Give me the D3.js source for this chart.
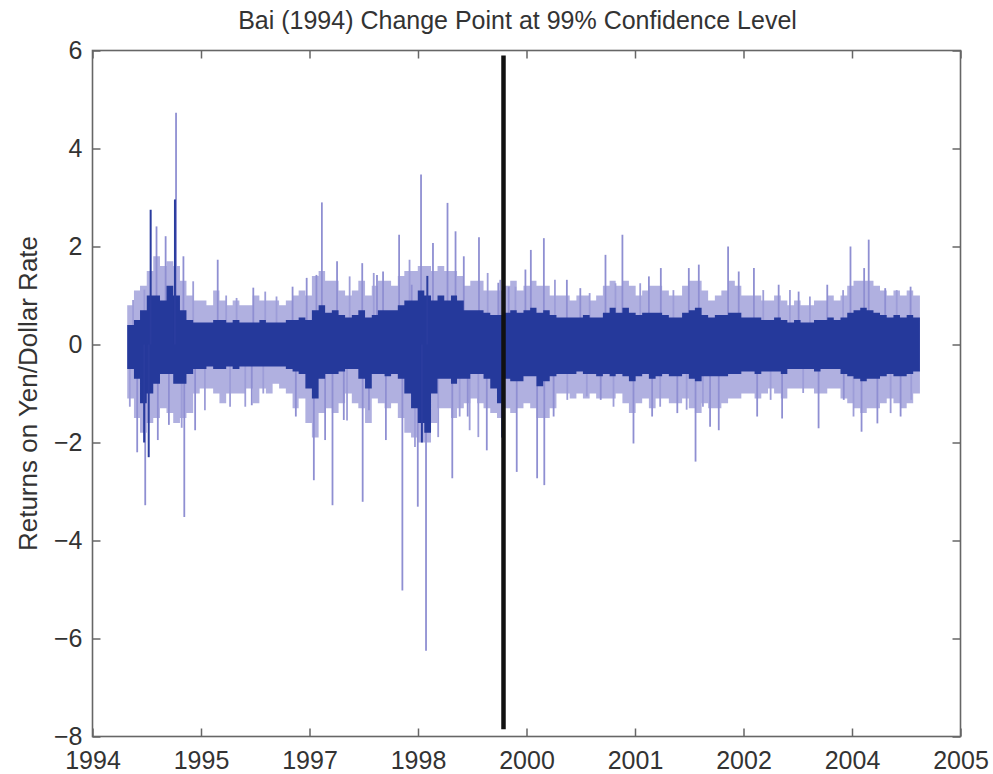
<!DOCTYPE html>
<html>
<head>
<meta charset="utf-8">
<script src="https://cdnjs.cloudflare.com/ajax/libs/d3/7.8.5/d3.min.js"></script>
<style>
  body { margin: 0; background: #fff; }
  text { font-family: "Liberation Sans", Arial, Helvetica, sans-serif; fill: #333; }
</style>
</head>
<body>
<div id="chart"></div>
<script>
// years covered by the daily return series (monthly summary below, Jan..Dec each year)
var years = [1995, 1996, 1997, 1998, 1999, 2000, 2001, 2002, 2003, 2004];

// outer (light) envelope of the returns, per month
var lightHi = [
  0.8, 1.1, 1.2, 1.5, 1.8, 1.6, 1.7, 1.6, 1.3, 1.0, 0.9, 0.9,
  0.8, 1.1, 0.9, 0.8, 0.9, 0.8, 0.8, 1.0, 0.9, 0.9, 0.9, 0.8,
  0.9, 1.0, 1.1, 1.0, 1.4, 1.5, 1.3, 1.3, 1.1, 1.0, 1.1, 1.3,
  1.0, 1.2, 1.3, 1.3, 1.2, 1.4, 1.5, 1.5, 1.6, 1.6, 1.5, 1.6,
  1.5, 1.5, 1.4, 1.2, 1.3, 1.3, 1.1, 1.1, 1.1, 1.2, 1.3, 1.1,
  1.2, 1.3, 1.2, 1.2, 1.0, 1.0, 1.0, 0.9, 1.0, 1.0, 0.9, 1.0,
  1.2, 1.3, 1.2, 1.3, 1.2, 1.0, 1.1, 1.2, 1.2, 1.1, 1.0, 1.0,
  1.2, 1.3, 1.3, 1.1, 0.9, 1.0, 1.1, 1.3, 1.2, 1.0, 1.0, 1.0,
  0.9, 0.9, 1.0, 0.9, 0.8, 0.9, 0.8, 0.8, 0.9, 0.9, 1.0, 0.9,
  1.0, 1.2, 1.3, 1.3, 1.3, 1.2, 1.1, 1.0, 1.1, 1.0, 1.1, 1.0
];
var lightLo = [
  -1.1, -1.5, -1.8, -1.6, -1.5, -1.3, -1.4, -1.6, -1.5, -1.4, -1.0, -0.9,
  -0.9, -1.0, -1.2, -1.0, -1.0, -1.0, -0.9, -1.2, -0.9, -1.0, -0.8, -0.9,
  -1.0, -1.3, -1.1, -1.6, -1.9, -1.4, -1.3, -1.4, -1.2, -1.0, -1.2, -1.3,
  -1.6, -1.1, -1.2, -1.3, -1.2, -1.5, -1.8, -1.9, -2.0, -2.0, -1.6, -1.3,
  -1.3, -1.5, -1.3, -1.2, -1.1, -1.2, -1.3, -1.4, -1.5, -1.3, -1.4, -1.3,
  -1.2, -1.3, -1.5, -1.5, -1.3, -1.0, -1.0, -1.1, -1.0, -1.1, -1.0, -1.1,
  -1.1, -1.1, -1.0, -1.2, -1.4, -1.2, -1.1, -1.3, -1.1, -1.1, -1.2, -1.2,
  -1.1, -1.3, -1.4, -1.2, -1.3, -1.3, -1.2, -1.1, -1.1, -1.0, -1.0, -1.1,
  -1.0, -0.9, -1.0, -1.1, -0.9, -0.9, -0.9, -0.9, -1.0, -1.0, -0.9, -0.9,
  -1.1, -1.2, -1.3, -1.4, -1.3, -1.3, -1.2, -1.1, -1.2, -1.3, -1.2, -1.0
];

// dense (dark) core of the returns, per month
var coreHi = [
  0.4, 0.5, 0.7, 1.0, 1.0, 0.9, 1.2, 1.0, 0.7, 0.5, 0.45, 0.45,
  0.45, 0.5, 0.5, 0.45, 0.5, 0.45, 0.45, 0.45, 0.5, 0.45, 0.45, 0.45,
  0.5, 0.5, 0.55, 0.5, 0.7, 0.8, 0.65, 0.7, 0.6, 0.55, 0.6, 0.7,
  0.55, 0.6, 0.7, 0.7, 0.7, 0.8, 0.9, 0.9, 1.1, 1.0, 0.9, 1.0,
  0.9, 1.0, 0.9, 0.7, 0.7, 0.7, 0.65, 0.6, 0.6, 0.65, 0.7, 0.65,
  0.7, 0.75, 0.65, 0.7, 0.6, 0.55, 0.55, 0.55, 0.55, 0.6, 0.55, 0.55,
  0.65, 0.75, 0.65, 0.75, 0.65, 0.6, 0.65, 0.65, 0.65, 0.6, 0.55, 0.55,
  0.65, 0.7, 0.75, 0.6, 0.55, 0.6, 0.6, 0.65, 0.65, 0.55, 0.55, 0.55,
  0.5, 0.5, 0.55, 0.5, 0.45, 0.5, 0.45, 0.45, 0.5, 0.5, 0.55, 0.5,
  0.55, 0.65, 0.7, 0.75, 0.7, 0.65, 0.6, 0.55, 0.6, 0.55, 0.6, 0.55
];
var coreLo = [
  -0.5, -0.7, -1.2, -1.0, -0.8, -0.6, -0.6, -0.8, -0.8, -0.6, -0.5, -0.5,
  -0.45, -0.5, -0.5, -0.45, -0.5, -0.45, -0.45, -0.45, -0.45, -0.45, -0.45, -0.45,
  -0.5, -0.55, -0.6, -0.9, -1.1, -0.7, -0.6, -0.6, -0.55, -0.5, -0.5, -0.7,
  -0.9, -0.6, -0.6, -0.65, -0.6, -0.7, -1.0, -1.3, -1.6, -1.8, -1.0, -0.7,
  -0.7, -0.8, -0.7, -0.7, -0.6, -0.6, -0.7, -0.9, -1.2, -0.7, -0.75, -0.75,
  -0.65, -0.65, -0.85, -0.75, -0.65, -0.6, -0.6, -0.6, -0.55, -0.6, -0.6, -0.65,
  -0.6, -0.65, -0.6, -0.65, -0.75, -0.65, -0.6, -0.7, -0.65, -0.6, -0.65, -0.65,
  -0.6, -0.7, -0.75, -0.65, -0.65, -0.65, -0.65, -0.6, -0.6, -0.55, -0.55, -0.6,
  -0.55, -0.55, -0.55, -0.6, -0.5, -0.5, -0.5, -0.5, -0.55, -0.5, -0.5, -0.5,
  -0.6, -0.65, -0.7, -0.75, -0.7, -0.7, -0.65, -0.6, -0.65, -0.65, -0.6, -0.55
];

// isolated large daily returns (light strokes)
var spikeDates = [
  "1995-02-16", "1995-03-25", "1995-05-16", "1995-05-22", "1995-06-27", "1995-07-12",
  "1995-08-14", "1995-09-17", "1995-09-21", "1995-11-10", "1996-02-22", "1996-07-28",
  "1996-08-04", "1997-02-01", "1997-02-16", "1997-04-07", "1997-05-10", "1997-05-22",
  "1997-06-16", "1997-07-01", "1997-08-04", "1997-08-25", "1997-09-25", "1997-12-19",
  "1997-12-21", "1998-01-19", "1998-02-25", "1998-03-25", "1998-04-07", "1998-06-07",
  "1998-06-22", "1998-08-04", "1998-09-01", "1998-09-16", "1998-10-09", "1998-11-10",
  "1999-01-16", "1999-02-07", "1999-02-22", "1999-04-01", "1999-04-19", "1999-06-10",
  "1999-07-16", "1999-09-07", "1999-10-25", "1999-12-01", "2000-01-10", "2000-02-04",
  "2000-03-04", "2000-04-04", "2000-04-06", "2000-05-19", "2000-07-19", "2000-09-19",
  "2000-12-22", "2001-01-13", "2001-04-01", "2001-05-22", "2001-08-01", "2001-08-16",
  "2001-09-25", "2001-12-10", "2002-02-01", "2002-03-04", "2002-03-19", "2002-05-10",
  "2002-06-19", "2002-08-01", "2002-09-19", "2002-11-28", "2002-12-13", "2003-03-22",
  "2003-04-07", "2003-06-22", "2003-09-22", "2003-11-01", "2004-01-16", "2004-02-16",
  "2004-04-07", "2004-04-19", "2004-05-10", "2004-06-19", "2004-07-25", "2004-10-04",
  "2004-11-19"
];
var spikeValues = [
  -2.2, -3.28, 2.41, -1.95, 2.21, -1.64,
  4.73, 1.8, -3.52, -1.75, 1.73, -1.24,
  1.16, 1.18, -1.47, 1.36, -2.77, 1.42,
  2.9, -1.95, -3.28, 1.7, -1.54, 1.66,
  -3.21, -1.34, 1.42, 1.49, -1.95, 2.24,
  -5.02, 1.22, -3.31, 3.47, -6.25, 2.07,
  2.89, -2.73, 2.31, 1.8, -1.47, 2.19,
  -2.16, 1.26, 1.18, -2.6, 1.53, 1.93,
  -2.73, 2.17, -2.87, -1.47, 1.32, 1.15,
  -1.13, 1.83, 2.24, -2.02, 1.39, -1.47,
  1.56, -1.4, 1.56, -2.39, 1.63, -1.68,
  -1.75, 2.0, 1.49, 1.56, -1.47, 1.22,
  -1.51, 1.08, -1.71, 1.22, -1.13, 2.0,
  -1.78, 1.56, 2.14, -1.61, 1.15, -1.47,
  1.18
];

// smaller returns just past the envelope edge
var edgeSpikeDates = [
  "1995-01-13", "1995-01-28", "1995-03-21", "1995-09-09", "1995-11-01", "1995-12-25",
  "1996-04-01", "1996-04-19", "1996-05-19", "1996-06-28", "1996-09-19", "1996-09-28",
  "1996-11-19", "1997-10-10", "1997-10-22", "1998-02-10", "1998-07-25", "1998-08-19",
  "1998-12-04", "1999-03-13", "1999-04-28", "1999-06-07", "1999-07-20", "1999-09-16",
  "1999-11-25", "2000-05-25", "2000-07-21", "2000-10-19", "2000-11-01", "2001-02-19",
  "2001-02-28", "2001-06-22", "2001-09-22", "2001-11-22", "2002-01-22", "2002-04-07",
  "2003-01-10", "2003-02-13", "2003-05-13", "2003-07-13", "2003-08-13", "2004-01-13",
  "2004-03-01", "2004-08-19", "2004-09-16", "2004-11-22"
];
var edgeSpikeValues = [
  -1.27, 0.91, 1.12, -1.7, 1.29, -1.34,
  1.0, -1.27, 0.95, -1.27, -1.0, 1.08,
  0.98, -1.55, 1.39, 1.46, 1.73, -2.09,
  -1.89, -1.47, -1.75, -1.89, 1.46, 1.32,
  1.18, 1.32, -1.13, -1.06, 1.05, -1.27,
  1.25, 1.25, -1.27, 1.11, -1.33, -1.27,
  1.11, -1.13, 1.11, -0.99, 0.98, 1.11,
  -1.47, -1.4, 1.11, -1.13
];

// large returns that show up as dark strokes
var darkSpikeDates = ["1995-03-20", "1995-04-10", "1995-04-19", "1995-08-09", "1998-09-20", "1998-10-15", "1999-09-25"];
var darkSpikeValues = [-2.0, -2.3, 2.75, 2.96, -2.0, 1.4, -1.9];

// change point and axis ticks
var changeDate = "1999-10-01";
var changeTop = 5.9;
var changeBottom = -7.85;
var xTickDates = ["1994-07-25", "1995-12-07", "1997-04-20", "1998-09-02", "2000-01-15",
                  "2001-05-29", "2002-10-11", "2004-02-23", "2005-07-07"];
var yTicks = [-8, -6, -4, -2, 0, 2, 4, 6];

var titleText = "Bai (1994) Change Point at 99% Confidence Level";
var yLabelText = "Returns on Yen/Dollar Rate";

// canvas
var svgWidth = 993;
var svgHeight = 774;
var margin = { top: 50.5, right: 32.5, bottom: 37.5, left: 92.5 };
var width = svgWidth - margin.left - margin.right;
var height = svgHeight - margin.top - margin.bottom;

var parse = d3.timeParse("%Y-%m-%d");

var svg = d3.select("#chart")
  .append("svg")
  .attr("width", svgWidth)
  .attr("height", svgHeight);

var g = svg.append("g")
  .attr("transform", `translate(${margin.left}, ${margin.top})`);

var xScale = d3.scaleTime()
  .domain([parse(xTickDates[0]), parse(xTickDates[xTickDates.length - 1])])
  .range([0, width]);

var yScale = d3.scaleLinear()
  .domain([-8, 6])
  .range([height, 0]);

// monthly rows
var rows = [];
years.forEach(function (yr, yi) {
  for (var m = 0; m < 12; m++) {
    var i = yi * 12 + m;
    rows.push({ date: new Date(yr, m, 1), lightHi: lightHi[i], lightLo: lightLo[i], coreHi: coreHi[i], coreLo: coreLo[i] });
  }
});
var last = rows[rows.length - 1];
var stepRows = rows.concat([Object.assign({}, last, { date: new Date(years[years.length - 1] + 1, 0, 1) })]);

var plot = g.append("g");

// light envelope
plot.append("path")
  .datum(stepRows)
  .attr("fill", "#b0b0e0")
  .attr("d", d3.area()
    .curve(d3.curveStepAfter)
    .x(d => xScale(d.date))
    .y0(d => yScale(d.lightLo))
    .y1(d => yScale(d.lightHi)));

function drawSpikes(cls, dates, values, color, w) {
  var pts = dates.map((d, i) => ({ date: parse(d), value: values[i] }));
  plot.selectAll("." + cls)
    .data(pts)
    .enter()
    .append("line")
    .attr("class", cls)
    .attr("x1", d => xScale(d.date))
    .attr("x2", d => xScale(d.date))
    .attr("y1", yScale(0))
    .attr("y2", d => yScale(d.value))
    .attr("stroke", color)
    .attr("stroke-width", w);
}

// light spikes
drawSpikes("edgespike", edgeSpikeDates, edgeSpikeValues, "#9d9dd8", 1.8);
drawSpikes("spike", spikeDates, spikeValues, "#8f8fd2", 1.8);

// dark core
plot.append("path")
  .datum(stepRows)
  .attr("fill", "#25399b")
  .attr("d", d3.area()
    .curve(d3.curveStepAfter)
    .x(d => xScale(d.date))
    .y0(d => yScale(d.coreLo))
    .y1(d => yScale(d.coreHi)));

drawSpikes("darkspike", darkSpikeDates, darkSpikeValues, "#2a3c9e", 2);

// change point line
g.append("line")
  .attr("x1", xScale(parse(changeDate)))
  .attr("x2", xScale(parse(changeDate)))
  .attr("y1", yScale(changeTop))
  .attr("y2", yScale(changeBottom))
  .attr("stroke", "#111")
  .attr("stroke-width", 4.5);

// axes (inward ticks on all four sides, MATLAB box)
var tickDates = xTickDates.map(parse);
var axisColor = "#666";

var xAxis = d3.axisBottom(xScale)
  .tickValues(tickDates)
  .tickFormat(d3.timeFormat("%Y"))
  .tickSizeInner(-8)
  .tickSizeOuter(0)
  .tickPadding(15);

var xAxisTop = d3.axisTop(xScale)
  .tickValues(tickDates)
  .tickFormat("")
  .tickSizeInner(-8)
  .tickSizeOuter(0);

var yAxis = d3.axisLeft(yScale)
  .tickValues(yTicks)
  .tickFormat(d3.format("d"))
  .tickSizeInner(-8)
  .tickSizeOuter(0)
  .tickPadding(10);

var yAxisRight = d3.axisRight(yScale)
  .tickValues(yTicks)
  .tickFormat("")
  .tickSizeInner(-8)
  .tickSizeOuter(0);

g.append("g").attr("class", "xAxis").attr("transform", `translate(0, ${height})`).call(xAxis);
g.append("g").attr("class", "xAxisTop").call(xAxisTop);
g.append("g").attr("class", "yAxis").call(yAxis);
g.append("g").attr("class", "yAxisRight").attr("transform", `translate(${width}, 0)`).call(yAxisRight);

g.selectAll(".domain").remove();
g.selectAll(".tick line").attr("stroke", axisColor).attr("stroke-width", 1.5);
g.selectAll(".tick text")
  .attr("fill", "#333")
  .style("font-size", "25px")
  .style("font-family", "'Liberation Sans', Arial, Helvetica, sans-serif");
g.selectAll(".yAxis .tick text").attr("dy", "0.3em");

// box
g.append("rect")
  .attr("x", 0)
  .attr("y", 0)
  .attr("width", width)
  .attr("height", height)
  .attr("fill", "none")
  .attr("stroke", axisColor)
  .attr("stroke-width", 1.6);

// title and y label
svg.append("text")
  .attr("x", 517.5)
  .attr("y", 29)
  .attr("text-anchor", "middle")
  .style("font-size", "25px")
  .text(titleText);

svg.append("text")
  .attr("transform", `translate(37, ${margin.top + height / 2}) rotate(-90)`)
  .attr("text-anchor", "middle")
  .style("font-size", "26px")
  .text(yLabelText);
</script>
</body>
</html>
